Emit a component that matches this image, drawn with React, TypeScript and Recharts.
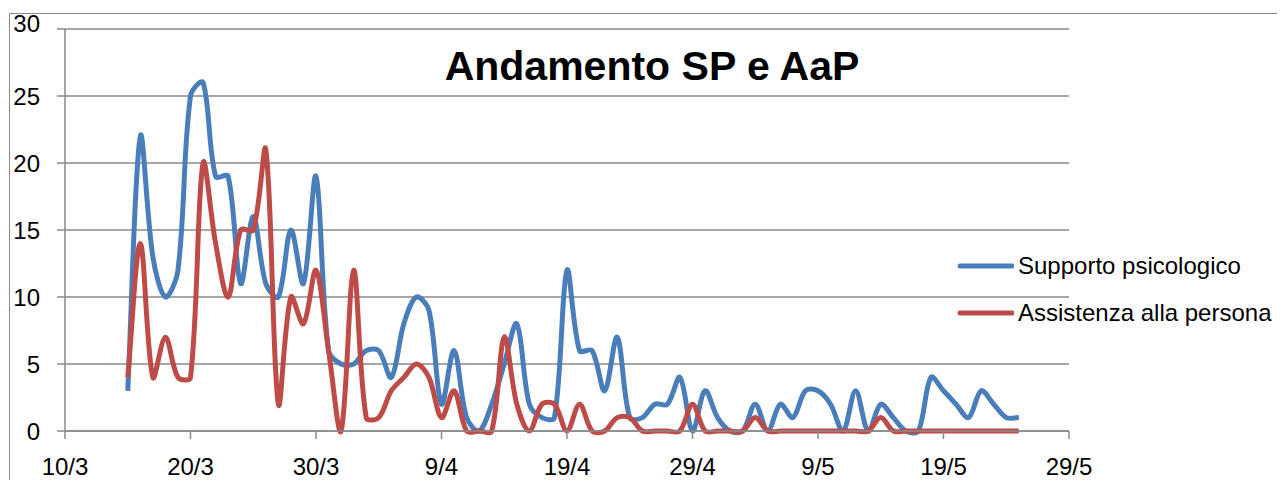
import { LineChart, Line, XAxis, YAxis, CartesianGrid, Legend } from "recharts";

const dates = [
  "15/3", "16/3", "17/3", "18/3", "19/3", "20/3", "21/3", "22/3", "23/3", "24/3",
  "25/3", "26/3", "27/3", "28/3", "29/3", "30/3", "31/3",
  "1/4", "2/4", "3/4", "4/4", "5/4", "6/4", "7/4", "8/4", "9/4", "10/4",
  "11/4", "12/4", "13/4", "14/4", "15/4", "16/4", "17/4", "18/4", "19/4", "20/4",
  "21/4", "22/4", "23/4", "24/4", "25/4", "26/4", "27/4", "28/4", "29/4", "30/4",
  "1/5", "2/5", "3/5", "4/5", "5/5", "6/5", "7/5", "8/5", "9/5", "10/5",
  "11/5", "12/5", "13/5", "14/5", "15/5", "16/5", "17/5", "18/5", "19/5", "20/5",
  "21/5", "22/5", "23/5", "24/5", "25/5",
];

const supporto = [
  3, 22, 13, 10, 12, 25, 26, 19, 19, 11,
  16, 11, 10, 15, 11, 19, 6,
  5, 5, 6, 6, 4, 8, 10, 9, 2, 6,
  1, 0, 2, 5, 8, 2, 1, 1, 12, 6,
  6, 3, 7, 1, 1, 2, 2, 4, 0, 3,
  1, 0, 0, 2, 0, 2, 1, 3, 3, 2,
  0, 3, 0, 2, 1, 0, 0, 4, 3, 2,
  1, 3, 2, 1, 1,
];

const assistenza = [
  4, 14, 4, 7, 4, 4, 20, 14, 10, 15,
  15, 21, 2, 10, 8, 12, 6,
  0, 12, 1, 1, 3, 4, 5, 4, 1, 3,
  0, 0, 0, 7, 2, 0, 2, 2, 0, 2,
  0, 0, 1, 1, 0, 0, 0, 0, 2, 0,
  0, 0, 0, 1, 0, 0, 0, 0, 0, 0,
  0, 0, 0, 1, 0, 0, 0, 0, 0, 0,
  0, 0, 0, 0, 0,
];

const seriesNames = ["Supporto psicologico", "Assistenza alla persona"];
const xTickLabels = ["10/3", "20/3", "30/3", "9/4", "19/4", "29/4", "9/5", "19/5", "29/5"];
const yTicks = [0, 5, 10, 15, 20, 25, 30];
const title = "Andamento SP e AaP";

const font = "'Liberation Sans', Arial, sans-serif";
const gray = "#8a8a8a";
const lineColors = ["#4A7EBB", "#BE4B48"];

// days since 10/3 for a "d/m" label
const monthOffset: Record<number, number> = { 3: 0, 4: 31, 5: 61 };
function dayIndex(label: string) {
  const [d, m] = label.split("/").map(Number);
  return d + monthOffset[m] - 10;
}

const xTicks = xTickLabels.map(dayIndex);
const tickLabelByDay: Record<number, string> = {};
xTickLabels.forEach((l) => (tickLabelByDay[dayIndex(l)] = l));

const data = dates.map((d, i) => ({
  day: dayIndex(d),
  sp: supporto[i],
  aap: assistenza[i],
}));

// office-style smoothing: catmull-rom with control points weighted by segment length
function smoothCurve(context: any) {
  let pts: number[][] = [];
  const dist = (a: number[], b: number[]) => Math.hypot(b[0] - a[0], b[1] - a[1]);
  return {
    areaStart() {},
    areaEnd() {},
    lineStart() {
      pts = [];
    },
    lineEnd() {
      const n = pts.length;
      if (!n) return;
      context.moveTo(pts[0][0], pts[0][1]);
      for (let i = 0; i < n - 1; i++) {
        const p0 = pts[i - 1] || pts[i];
        const p1 = pts[i];
        const p2 = pts[i + 1];
        const p3 = pts[i + 2] || p2;
        const d01 = dist(p0, p1);
        const d12 = dist(p1, p2);
        const d23 = dist(p2, p3);
        const f1 = d01 + d12 > 0 ? d12 / (d01 + d12) / 3 : 0;
        const f2 = d12 + d23 > 0 ? d12 / (d12 + d23) / 3 : 0;
        context.bezierCurveTo(
          p1[0] + (p2[0] - p0[0]) * f1,
          p1[1] + (p2[1] - p0[1]) * f1,
          p2[0] - (p3[0] - p1[0]) * f2,
          p2[1] - (p3[1] - p1[1]) * f2,
          p2[0],
          p2[1]
        );
      }
    },
    point(x: number, y: number) {
      pts.push([x, y]);
    },
  };
}

// the top label sits a little above its gridline in the original
const YTick = ({ x, y, payload }: any) => (
  <text
    x={x}
    y={payload.value === 30 ? y - 6 : y}
    dy="0.355em"
    textAnchor="end"
    fill="#000"
    fontSize={24}
    fontFamily={font}
  >
    {payload.value}
  </text>
);

const renderLegend = () => (
  <div style={{ fontFamily: font, fontSize: 24, color: "#000" }}>
    {seriesNames.map((name, i) => (
      <div key={name} style={{ display: "flex", alignItems: "center", height: 47 }}>
        <svg width={58} height={8}>
          <line
            x1={4}
            y1={4}
            x2={56}
            y2={4}
            stroke={lineColors[i]}
            strokeWidth={5}
            strokeLinecap="round"
          />
        </svg>
        <span style={{ marginLeft: 4, whiteSpace: "nowrap" }}>{name}</span>
      </div>
    ))}
  </div>
);

export default function App() {
  return (
    <div
      style={{
        position: "relative",
        width: 1277,
        height: 472,
        overflow: "hidden",
        fontFamily: font,
      }}
    >
      <div
        style={{
          position: "absolute",
          left: 1,
          top: 5,
          width: 1274,
          height: 600,
          border: `1.5px solid ${gray}`,
          boxSizing: "border-box",
        }}
      />
      <div
        style={{
          position: "absolute",
          left: 344,
          top: 38,
          width: 600,
          textAlign: "center",
          fontSize: 41,
          lineHeight: 1,
          fontWeight: "bold",
          color: "#000",
        }}
      >
        {title}
      </div>
      <div style={{ position: "absolute", left: 0, top: 0 }}>
        <LineChart
          width={1277}
          height={472}
          data={data}
          margin={{ top: 21, right: 216, bottom: 9, left: 7 }}
        >
          <CartesianGrid vertical={false} stroke={gray} strokeWidth={1.5} />
          <XAxis
            dataKey="day"
            type="number"
            domain={[0, 80]}
            ticks={xTicks}
            tickFormatter={(v: number) => tickLabelByDay[v] ?? ""}
            height={40}
            tickSize={8}
            tickMargin={19}
            stroke={gray}
            strokeWidth={1.5}
            tick={{ fill: "#000", fontSize: 24, fontFamily: font }}
            interval={0}
          />
          <YAxis
            type="number"
            domain={[0, 30]}
            ticks={yTicks}
            width={50}
            tickSize={8}
            tickMargin={17}
            stroke={gray}
            strokeWidth={1.5}
            tick={<YTick />}
            interval={0}
          />
          <Legend
            layout="vertical"
            align="center"
            verticalAlign="middle"
            width={330}
            content={renderLegend}
            wrapperStyle={{ left: 948, top: 234, width: 330 }}
          />
          <Line
            dataKey="sp"
            name={seriesNames[0]}
            type={smoothCurve as any}
            stroke={lineColors[0]}
            strokeWidth={5}
            dot={false}
            activeDot={false}
            isAnimationActive={false}
          />
          <Line
            dataKey="aap"
            name={seriesNames[1]}
            type={smoothCurve as any}
            stroke={lineColors[1]}
            strokeWidth={5}
            dot={false}
            activeDot={false}
            isAnimationActive={false}
          />
        </LineChart>
      </div>
    </div>
  );
}
